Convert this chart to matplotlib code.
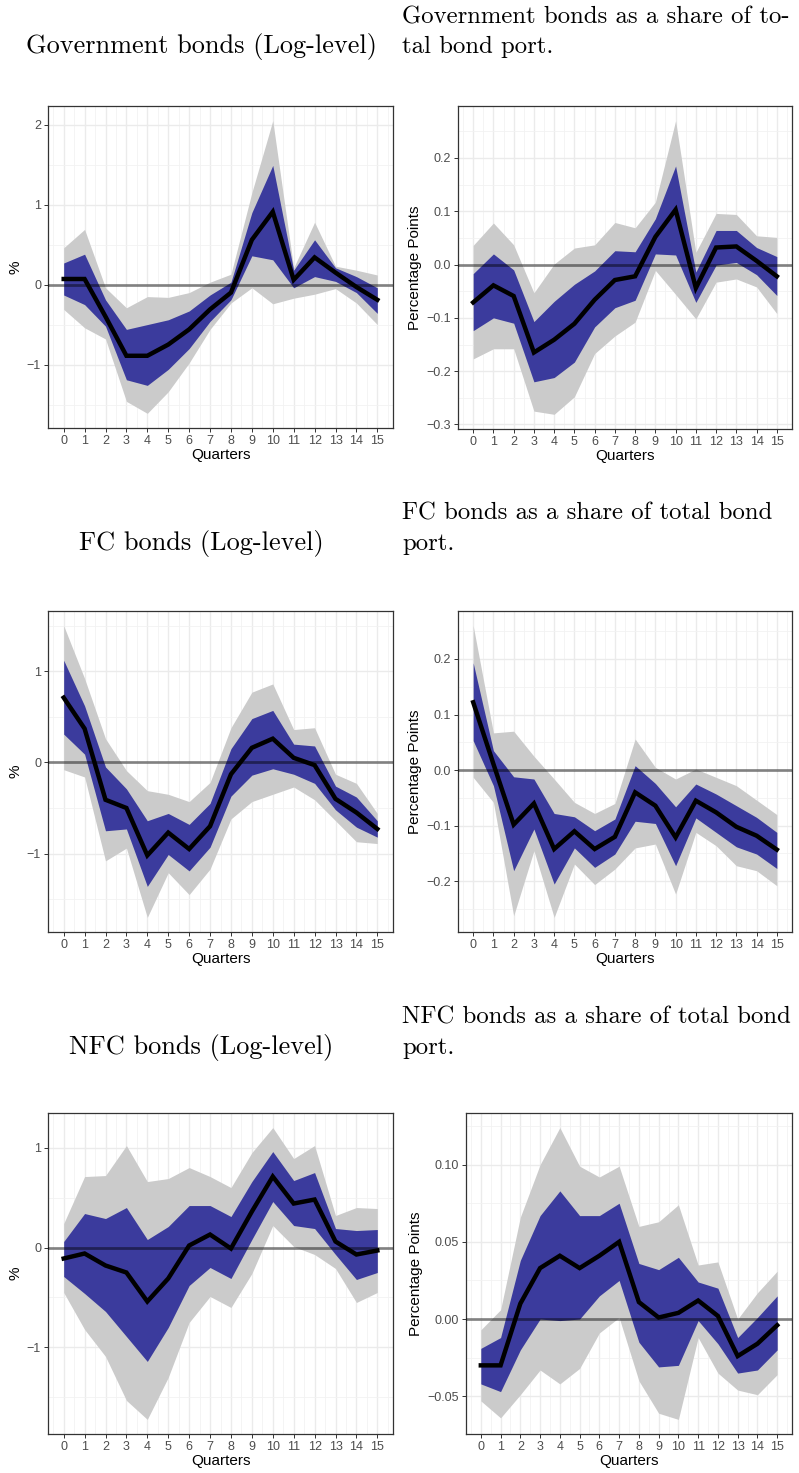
import numpy as np
import matplotlib
matplotlib.use('Agg')
import matplotlib.pyplot as plt
from matplotlib.ticker import MultipleLocator, FuncFormatter

# Quarters on the x axis
quarters = list(range(16))

# Panel 1: Government bonds (Log-level)
gov_lvl_irf = [0.07, 0.07, -0.40, -0.89, -0.89, -0.75, -0.56, -0.31, -0.10, 0.56, 0.91, 0.06, 0.34, 0.15, -0.03, -0.19]
gov_lvl_hi68 = [0.27, 0.38, -0.19, -0.56, -0.50, -0.44, -0.33, -0.13, 0.03, 0.90, 1.49, 0.18, 0.56, 0.21, 0.10, -0.04]
gov_lvl_lo68 = [-0.13, -0.25, -0.52, -1.19, -1.26, -1.06, -0.80, -0.46, -0.19, 0.36, 0.31, -0.04, 0.10, 0.04, -0.10, -0.36]
gov_lvl_hi90 = [0.46, 0.69, -0.04, -0.29, -0.15, -0.16, -0.10, 0.03, 0.13, 1.15, 2.05, 0.21, 0.78, 0.23, 0.18, 0.12]
gov_lvl_lo90 = [-0.31, -0.54, -0.68, -1.46, -1.61, -1.34, -0.98, -0.56, -0.23, -0.04, -0.24, -0.17, -0.12, -0.05, -0.23, -0.50]

# Panel 2: Government bonds as a share of total bond port.
gov_shr_irf = [-0.071, -0.039, -0.059, -0.165, -0.141, -0.111, -0.066, -0.029, -0.022, 0.052, 0.103, -0.044, 0.032, 0.034, 0.007, -0.022]
gov_shr_hi68 = [-0.017, 0.020, -0.010, -0.107, -0.069, -0.037, -0.012, 0.026, 0.024, 0.086, 0.185, -0.014, 0.064, 0.064, 0.032, 0.015]
gov_shr_lo68 = [-0.124, -0.100, -0.110, -0.220, -0.212, -0.183, -0.117, -0.081, -0.067, 0.020, 0.018, -0.071, -0.001, 0.004, -0.019, -0.058]
gov_shr_hi90 = [0.036, 0.078, 0.037, -0.053, 0.001, 0.031, 0.037, 0.079, 0.069, 0.117, 0.270, 0.023, 0.096, 0.094, 0.054, 0.051]
gov_shr_lo90 = [-0.177, -0.158, -0.158, -0.275, -0.281, -0.248, -0.167, -0.134, -0.108, -0.011, -0.056, -0.102, -0.033, -0.027, -0.042, -0.092]

# Panel 3: FC bonds (Log-level)
fc_lvl_irf = [0.71, 0.37, -0.41, -0.50, -1.02, -0.77, -0.95, -0.70, -0.13, 0.16, 0.26, 0.05, -0.03, -0.40, -0.55, -0.73]
fc_lvl_hi68 = [1.12, 0.62, -0.05, -0.29, -0.64, -0.56, -0.68, -0.45, 0.15, 0.48, 0.57, 0.20, 0.18, -0.26, -0.38, -0.64]
fc_lvl_lo68 = [0.31, 0.09, -0.75, -0.73, -1.36, -1.01, -1.19, -0.93, -0.37, -0.14, -0.07, -0.13, -0.23, -0.52, -0.71, -0.82]
fc_lvl_hi90 = [1.50, 0.92, 0.26, -0.09, -0.31, -0.35, -0.43, -0.22, 0.38, 0.77, 0.86, 0.36, 0.38, -0.13, -0.23, -0.56]
fc_lvl_lo90 = [-0.08, -0.16, -1.08, -0.94, -1.70, -1.21, -1.45, -1.17, -0.62, -0.43, -0.35, -0.27, -0.41, -0.64, -0.87, -0.89]

# Panel 4: FC bonds as a share of total bond port.
fc_shr_irf = [0.122, 0.011, -0.098, -0.060, -0.142, -0.110, -0.142, -0.120, -0.040, -0.064, -0.121, -0.055, -0.076, -0.102, -0.118, -0.143]
fc_shr_hi68 = [0.193, 0.035, -0.012, -0.016, -0.078, -0.084, -0.109, -0.088, 0.008, -0.024, -0.066, -0.025, -0.043, -0.064, -0.085, -0.112]
fc_shr_lo68 = [0.053, -0.028, -0.181, -0.106, -0.205, -0.140, -0.175, -0.151, -0.092, -0.096, -0.172, -0.086, -0.112, -0.138, -0.151, -0.177]
fc_shr_hi90 = [0.260, 0.067, 0.070, 0.025, -0.016, -0.058, -0.078, -0.060, 0.056, 0.005, -0.016, 0.002, -0.013, -0.028, -0.054, -0.080]
fc_shr_lo90 = [-0.013, -0.058, -0.262, -0.145, -0.265, -0.169, -0.206, -0.178, -0.140, -0.133, -0.223, -0.112, -0.136, -0.172, -0.181, -0.208]

# Panel 5: NFC bonds (Log-level)
nfc_lvl_irf = [-0.11, -0.06, -0.18, -0.25, -0.54, -0.31, 0.02, 0.13, -0.01, 0.36, 0.71, 0.44, 0.48, 0.06, -0.07, -0.03]
nfc_lvl_hi68 = [0.06, 0.34, 0.29, 0.40, 0.08, 0.21, 0.42, 0.42, 0.31, 0.66, 0.96, 0.67, 0.75, 0.19, 0.17, 0.18]
nfc_lvl_lo68 = [-0.29, -0.46, -0.64, -0.89, -1.14, -0.80, -0.38, -0.20, -0.31, 0.08, 0.46, 0.22, 0.19, -0.07, -0.32, -0.25]
nfc_lvl_hi90 = [0.24, 0.71, 0.72, 1.02, 0.66, 0.69, 0.80, 0.71, 0.60, 0.95, 1.20, 0.89, 1.02, 0.32, 0.40, 0.39]
nfc_lvl_lo90 = [-0.45, -0.82, -1.09, -1.53, -1.72, -1.30, -0.75, -0.49, -0.60, -0.26, 0.22, 0.01, -0.07, -0.21, -0.55, -0.45]

# Panel 6: NFC bonds as a share of total bond port.
nfc_shr_irf = [-0.030, -0.030, 0.010, 0.033, 0.041, 0.033, 0.041, 0.050, 0.011, 0.001, 0.004, 0.012, 0.002, -0.024, -0.016, -0.004]
nfc_shr_hi68 = [-0.019, -0.012, 0.038, 0.067, 0.083, 0.067, 0.067, 0.075, 0.036, 0.032, 0.040, 0.024, 0.020, -0.012, 0.001, 0.015]
nfc_shr_lo68 = [-0.042, -0.047, -0.020, -0.000, -0.001, 0.000, 0.015, 0.025, -0.015, -0.031, -0.030, -0.001, -0.016, -0.035, -0.033, -0.020]
nfc_shr_hi90 = [-0.007, 0.006, 0.066, 0.100, 0.124, 0.099, 0.092, 0.099, 0.060, 0.063, 0.074, 0.035, 0.037, 0.000, 0.017, 0.031]
nfc_shr_lo90 = [-0.053, -0.064, -0.049, -0.033, -0.042, -0.032, -0.009, 0.001, -0.040, -0.061, -0.065, -0.012, -0.035, -0.046, -0.049, -0.036]

titles_left = ['Government bonds (Log-level)', 'FC bonds (Log-level)', 'NFC bonds (Log-level)']
titles_right = [['Government bonds as a share of to-', 'tal bond port.'],
                ['FC bonds as a share of total bond', 'port.'],
                ['NFC bonds as a share of total bond', 'port.']]

W, H = 799, 1473
fig = plt.figure(figsize=(W / 100, H / 100), dpi=100)

'''
Add an axes from pixel box (left, top, right, bottom)
'''
def px_axes(l, t, r, b):
    return fig.add_axes([l / W, 1 - b / H, (r - l) / W, (b - t) / H])

'''
Minus sign like ggplot, with a fixed number of decimals
'''
def fmt(dec):
    def f(v, pos):
        s = f'{v:.{dec}f}'
        if abs(v) < 1e-9:
            s = f'{0:.{dec}f}'
        return s.replace('-', '\u2212')
    return FuncFormatter(f)

'''
Draw one impulse response panel
'''
def irf_panel(ax, irf, lo68, hi68, lo90, hi90, ylabel, ystep, dec):
    ax.fill_between(quarters, lo90, hi90, color='#cbcbcb', lw=0, zorder=2)
    ax.fill_between(quarters, lo68, hi68, color='#3b3b9d', lw=0, zorder=3)
    ax.axhline(0, color='black', alpha=0.45, lw=2.0, zorder=4)
    ax.plot(quarters, irf, color='black', lw=3.2, zorder=5, solid_joinstyle='miter')
    ax.margins(x=0.05, y=0.05)

    ax.xaxis.set_major_locator(MultipleLocator(1))
    ax.xaxis.set_minor_locator(MultipleLocator(0.5))
    ax.yaxis.set_major_locator(MultipleLocator(ystep))
    ax.yaxis.set_minor_locator(MultipleLocator(ystep / 2))
    ax.yaxis.set_major_formatter(fmt(dec))
    ax.grid(which='major', color='#ebebeb', lw=1.0, zorder=0)
    ax.grid(which='minor', color='#f2f2f2', lw=0.6, zorder=0)
    ax.set_axisbelow(True)

    ax.tick_params(which='major', length=3, width=0.7, color='#333333',
                   labelsize=9, labelcolor='#4d4d4d', pad=2)
    ax.tick_params(which='minor', length=0)
    for pos in ['right', 'top', 'bottom', 'left']:
        ax.spines[pos].set_color('#333333')
        ax.spines[pos].set_linewidth(0.9)
    ax.set_xlabel('Quarters', fontsize=11, labelpad=1)
    ax.set_ylabel(ylabel, fontsize=11, labelpad=3)

plt.rcParams['font.family'] = ['Liberation Sans', 'DejaVu Sans']

ax1 = px_axes(48, 106, 393, 428)
irf_panel(ax1, gov_lvl_irf, gov_lvl_lo68, gov_lvl_hi68, gov_lvl_lo90, gov_lvl_hi90, '%', 1, 0)
ax2 = px_axes(458, 106, 792, 429)
irf_panel(ax2, gov_shr_irf, gov_shr_lo68, gov_shr_hi68, gov_shr_lo90, gov_shr_hi90, 'Percentage Points', 0.1, 1)
ax3 = px_axes(48, 611, 393, 932)
irf_panel(ax3, fc_lvl_irf, fc_lvl_lo68, fc_lvl_hi68, fc_lvl_lo90, fc_lvl_hi90, '%', 1, 0)
ax4 = px_axes(458, 611, 792, 932)
irf_panel(ax4, fc_shr_irf, fc_shr_lo68, fc_shr_hi68, fc_shr_lo90, fc_shr_hi90, 'Percentage Points', 0.1, 1)
ax5 = px_axes(48, 1113, 393, 1434)
irf_panel(ax5, nfc_lvl_irf, nfc_lvl_lo68, nfc_lvl_hi68, nfc_lvl_lo90, nfc_lvl_hi90, '%', 1, 0)
ax6 = px_axes(466, 1113, 792, 1434)
irf_panel(ax6, nfc_shr_irf, nfc_shr_lo68, nfc_shr_hi68, nfc_shr_lo90, nfc_shr_hi90, 'Percentage Points', 0.05, 2)

# Panel titles (LaTeX-like serif), baselines in pixels
row_base = [53, 550, 1054]
for i in range(3):
    y = row_base[i]
    fig.text(201 / W, 1 - y / H, titles_left[i], family='cmr10', fontsize=18.9,
             ha='center', va='baseline')
    fig.text(402 / W, 1 - (y - 30) / H, titles_right[i][0], family='cmr10', fontsize=17.8,
             ha='left', va='baseline')
    fig.text(402 / W, 1 - y / H, titles_right[i][1], family='cmr10', fontsize=17.8,
             ha='left', va='baseline')

plt.savefig('out.png', dpi=100)
